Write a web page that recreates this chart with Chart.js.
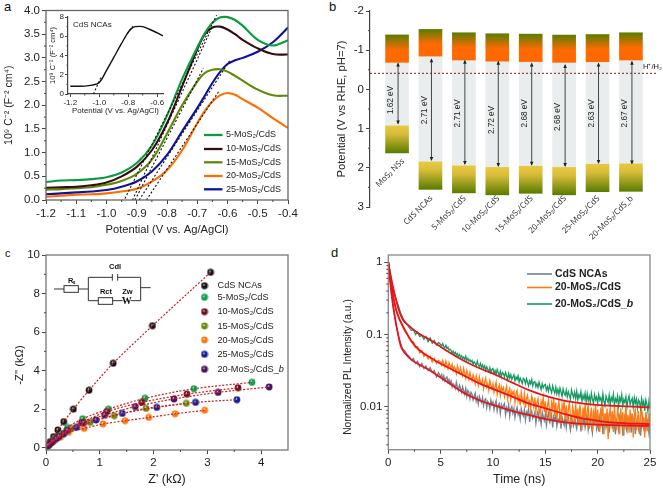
<!DOCTYPE html>
<html><head><meta charset="utf-8">
<script src="https://cdn.jsdelivr.net/npm/chart.js@4"></script>
<style>
html,body{margin:0;padding:0;background:#fff;width:663px;height:489px;overflow:hidden}
canvas{position:absolute;filter:blur(.3px)}
.tag{position:absolute;font-family:"Liberation Sans";color:#111}
</style></head><body>
<div class="tag" style="left:4px;top:-1px;font-size:13px">a</div>
<div class="tag" style="left:329px;top:-1px;font-size:13px">b</div>
<div class="tag" style="left:5px;top:247px;font-size:11px">c</div>
<div class="tag" style="left:331px;top:245px;font-size:13px">d</div>
<script>
// ---------- panel a ----------
const aPotential=[-1.2,-1.15,-1.1,-1.05,-1,-.95,-.9,-.85,-.8,-.75,-.7,-.675,-.65,-.625,-.6,-.575,-.55,-.5,-.45,-.4];
const a5=[.38,.41,.42,.44,.48,.58,.78,1.15,1.78,2.55,3.22,3.52,3.74,3.85,3.86,3.80,3.68,3.38,3.26,3.37];
const a10=[.26,.27,.28,.31,.37,.5,.7,1.05,1.62,2.4,3.18,3.5,3.64,3.66,3.6,3.5,3.38,3.2,3.08,3.07];
const a15=[.22,.23,.25,.27,.32,.40,.55,.85,1.4,2.0,2.5,2.68,2.75,2.76,2.71,2.62,2.52,2.33,2.21,2.2];
const a20=[.07,.09,.11,.12,.14,.18,.24,.39,.63,1.05,1.62,1.88,2.08,2.21,2.26,2.22,2.13,1.95,1.73,1.52];
const a25=[.12,.14,.16,.18,.21,.28,.39,.6,.95,1.45,1.94,2.2,2.47,2.7,2.87,2.95,3.0,3.13,3.33,3.64];
const aNames=["5-MoS₂/CdS","10-MoS₂/CdS","15-MoS₂/CdS","20-MoS₂/CdS","25-MoS₂/CdS"];
const aTangentX=[[-.939,-.636],[-.914,-.653],[-.906,-.68],[-.892,-.59],[-.868,-.626]];
const aTangentY=[[.03,3.9],[0,3.62],[0,2.78],[0,2.97],[0,2.32]];
const insetPotential=[-1.2,-1.1,-1.05,-1,-.95,-.9,-.85,-.8,-.775,-.75,-.7,-.65,-.6,-.56];
const insetValues=[.8,.82,.92,1.2,2.45,3.8,5.15,6.43,6.85,7.0,7.0,6.7,6.35,6.05];
// ---------- panel b ----------
const bNames=["MoS₂ NSs","CdS NCAs","5-MoS₂/CdS","10-MoS₂/CdS","15-MoS₂/CdS","20-MoS₂/CdS","25-MoS₂/CdS","20-MoS₂/CdS_b"];
const bCbTop=[-1.39,-1.53,-1.445,-1.42,-1.41,-1.386,-1.40,-1.445];
const bCbBottom=[-.69,-.85,-.75,-.72,-.71,-.69,-.706,-.75];
const bVbTop=[.93,1.85,1.95,1.99,1.96,1.99,1.91,1.90];
const bVbBottom=[1.62,2.55,2.64,2.69,2.65,2.69,2.61,2.6];
const bArrowTop=[-.66,-.77,-.73,-.705,-.66,-.62,-.66,-.705];
const bArrowBottom=[.87,1.80,1.90,1.955,1.92,1.955,1.88,1.89];
const bGapText=["1.62 eV","2.71 eV","2.71 eV","2.72 eV","2.68 eV","2.68 eV","2.63 eV","2.67 eV"];
const bGapTextAt=[.27,.53,.61,.78,.61,.70,.61,.61];
const bNameAt=[1.8,2.75,2.75,2.75,2.75,2.75,2.75,2.75];
const bHydrogen=-.41;
// ---------- panel c ----------
const cNames=["CdS NCAs","5-MoS₂/CdS","10-MoS₂/CdS","15-MoS₂/CdS","20-MoS₂/CdS","25-MoS₂/CdS","20-MoS₂/CdS_"];
const cX0=[.01,.03,.08,.14,.22,.33,.51,.8,1.25,1.98,3.06];
const cY0=[.05,.14,.31,.57,.92,1.35,2.0,2.98,4.38,6.33,9.1];
const cX1=[.05,.12,.23,.4,.68,1.16,1.84,2.75,3.83];
const cY1=[.15,.35,.6,1.05,1.5,2.0,2.56,3.06,3.39];
const cX2=[.04,.11,.22,.38,.66,1.13,1.78,2.62,3.57];
const cY2=[.12,.3,.55,.85,1.3,1.87,2.35,2.78,3.11];
const cX3=[.03,.08,.17,.3,.48,.82,1.27,1.86,2.61];
const cY3=[.1,.23,.45,.72,1.0,1.31,1.66,2.04,2.3];
const cX4=[.02,.07,.15,.27,.42,.71,1.06,1.47,1.91,2.4,2.95];
const cY4=[.07,.18,.35,.55,.8,1.0,1.23,1.4,1.57,1.76,1.94];
const cX5=[.03,.09,.19,.33,.57,.93,1.42,2.06,2.78,3.55];
const cY5=[.1,.25,.47,.72,1.06,1.44,1.78,2.09,2.35,2.49];
const cX6=[.05,.12,.24,.4,.7,1.09,1.66,2.38,3.2,4.15];
const cY6=[.14,.32,.58,.9,1.3,1.7,2.13,2.53,2.87,3.15];
// ---------- panel d ----------
const dTime=[0,.2,.4,.6,.8,1,1.2,1.4,1.6,1.8,2,2.2,2.4,2.6,2.8,3,3.2,3.4,3.6,3.8,4,4.2,4.4,4.6,4.8,
5,5.1,5.2,5.3,5.4,5.5,5.6,5.7,5.8,5.9,6,6.1,6.2,6.3,6.4,6.5,6.6,6.7,6.8,6.9,7,7.1,7.2,7.3,7.4,7.5,7.6,7.7,7.8,7.9,
8,8.1,8.2,8.3,8.4,8.5,8.6,8.7,8.8,8.9,9,9.1,9.2,9.3,9.4,9.5,9.6,9.7,9.8,9.9,10,10.1,10.2,10.3,10.4,10.5,10.6,10.7,10.8,10.9,
11,11.1,11.2,11.3,11.4,11.5,11.6,11.7,11.8,11.9,12,12.1,12.2,12.3,12.4,12.5,12.6,12.7,12.8,12.9,13,13.1,13.2,13.3,13.4,13.5,13.6,13.7,13.8,13.9,
14,14.1,14.2,14.3,14.4,14.5,14.6,14.7,14.8,14.9,15,15.1,15.2,15.3,15.4,15.5,15.6,15.7,15.8,15.9,16,16.1,16.2,16.3,16.4,16.5,16.6,16.7,16.8,16.9,
17,17.1,17.2,17.3,17.4,17.5,17.6,17.7,17.8,17.9,18,18.1,18.2,18.3,18.4,18.5,18.6,18.7,18.8,18.9,19,19.1,19.2,19.3,19.4,19.5,19.6,19.7,19.8,19.9,
20,20.1,20.2,20.3,20.4,20.5,20.6,20.7,20.8,20.9,21,21.1,21.2,21.3,21.4,21.5,21.6,21.7,21.8,21.9,22,22.1,22.2,22.3,22.4,22.5,22.6,22.7,22.8,22.9,
23,23.1,23.2,23.3,23.4,23.5,23.6,23.7,23.8,23.9,24,24.1,24.2,24.3,24.4,24.5,24.6,24.7,24.8,24.9,25];
const dCdS=[1,.52,.3,.185,.125,.092,.074,.063,.059,.053,.05,.044,.047,.04,.043,.036,.04,.034,.037,.032,.035,.03,.032,.026,.03,
.026,.028,.024,.027,.023,.025,.026,.022,.024,.021,
.023,.019,.021,.02,.018,.022,.019,.017,.02,.018,
.016,.019,.017,.015,.018,.014,.017,.016,.013,.016,
.015,.0125,.014,.0155,.012,.0135,.011,.014,.0125,.0115,
.0135,.0105,.0125,.013,.0098,.012,.0112,.0095,.0125,.0108,
.0118,.0092,.011,.0122,.0088,.0105,.0112,.0082,.0108,.0096,
.0105,.0112,.0078,.0098,.0088,.0108,.0075,.0095,.0102,.0082,
.0095,.0072,.009,.0099,.0078,.0086,.0068,.0095,.0082,.0075,
.0092,.0066,.0085,.0078,.0095,.0062,.0082,.0088,.007,.0076,
.0085,.006,.0078,.0088,.0066,.0072,.0058,.0085,.0074,.0065,
.008,.0056,.0072,.0082,.0062,.0068,.0078,.0052,.0074,.0066,
.0076,.0054,.0068,.0062,.008,.005,.0072,.0064,.0056,.0076,
.0052,.0068,.0074,.0058,.0048,.0072,.0062,.0055,.0076,.0058,
.005,.007,.0062,.0076,.0046,.0066,.0058,.0072,.0052,.0064,
.0074,.0048,.006,.0068,.0054,.0044,.007,.006,.0076,.005,
.0062,.0046,.0072,.0056,.0068,.0042,.0064,.0074,.0052,.0058,
.0072,.0044,.006,.0068,.005,.0076,.0056,.0042,.0066,.006,
.0048,.0072,.0058,.0066,.004,.0062,.0074,.0052,.0046,.0068,
.0056,.0072,.0044,.0064,.0054,.0076,.0042,.006,.0068,.005,
.0066,.004,.0058,.0074,.0052,.0062,.0046,.007,.0056,.0043,.006];
const d20=[1,.6,.39,.27,.205,.17,.146,.128,.11,.102,.09,.08,.08,.066,.068,.056,.06,.05,.054,.046,.05,.042,.047,.04,.044,
.042,.038,.044,.04,.036,.043,.039,.034,.041,.037,
.035,.039,.032,.036,.034,.029,.037,.033,.03,.035,
.03,.027,.034,.029,.025,.032,.028,.024,.03,.026,
.023,.028,.025,.021,.027,.024,.02,.026,.022,.021,
.024,.018,.022,.025,.019,.021,.017,.023,.02,.018,
.021,.016,.019,.022,.015,.018,.02,.0145,.019,.017,
.0185,.014,.017,.0195,.013,.016,.018,.0125,.0165,.015,
.0165,.0115,.0155,.017,.012,.014,.0105,.016,.013,.0115,
.015,.0098,.013,.0145,.0105,.012,.0092,.014,.0125,.01,
.0135,.0088,.0115,.013,.0092,.0078,.012,.0105,.0135,.0085,
.012,.0072,.0105,.0125,.0085,.0068,.0115,.0095,.013,.0075,
.0115,.0065,.0098,.012,.0078,.0058,.0108,.009,.0125,.0068,
.0105,.0062,.0092,.0118,.007,.0052,.0102,.0085,.0058,.0112,
.0068,.0095,.0055,.0108,.008,.0048,.0098,.0072,.011,.0056,
.0088,.0105,.005,.0075,.0098,.0046,.0085,.0068,.0108,.0052,
.0092,.0062,.0045,.0098,.0075,.0104,.0042,.0082,.0065,.0095,
.0036,.0072,.0098,.0055,.0088,.0045,.0102,.0066,.0048,.0092,
.0075,.0042,.0096,.0058,.0085,.004,.0072,.01,.005,.0078,
.0044,.0092,.0062,.0082,.0038,.0075,.0096,.0048,.0068,.0088,
.0042,.0078,.0094,.0052,.0072,.0038,.0086,.0062,.0046,.0082,.0055];
const d20b=[1,.68,.47,.36,.29,.24,.195,.168,.15,.137,.125,.114,.118,.1,.108,.094,.098,.086,.094,.08,.09,.076,.083,.072,.078,
.073,.07,.075,.068,.066,.071,.064,.067,.061,.063,
.06,.056,.059,.054,.057,.052,.055,.05,.053,.049,
.051,.047,.049,.045,.05,.044,.047,.043,.045,.042,
.044,.039,.042,.04,.037,.043,.038,.036,.04,.035,
.038,.034,.037,.032,.036,.033,.031,.035,.03,.033,
.034,.029,.032,.028,.033,.03,.027,.031,.026,.03,
.029,.026,.03,.027,.024,.029,.025,.028,.024,.026,
.028,.023,.026,.024,.027,.022,.025,.023,.021,.025,
.024,.021,.0245,.022,.0195,.023,.021,.024,.0195,.022,
.0225,.019,.021,.0185,.022,.0195,.0175,.021,.0185,.02,
.0205,.017,.019,.0165,.02,.0175,.0158,.0195,.0172,.0155,
.0188,.0152,.0175,.0148,.0182,.016,.014,.0178,.0155,.0145,
.0172,.0138,.0162,.0145,.0128,.0172,.015,.0135,.016,.013,
.0165,.0125,.0148,.0135,.0162,.012,.0145,.0128,.0155,.0118,
.0152,.0122,.014,.0115,.0155,.0128,.0112,.0148,.0125,.0138,
.0112,.0148,.0125,.0135,.0108,.0152,.012,.0105,.0142,.0128,
.0115,.0146,.0108,.0135,.0122,.015,.0105,.013,.0118,.0142,
.0102,.0135,.012,.0148,.0104,.0128,.0115,.0138,.01,.0125,
.0142,.0108,.0122,.0132,.0098,.0135,.0112,.0128,.0096,.0125,
.0118,.0092,.013,.0105,.012,.0088,.0126,.011,.0086,.012,.0095];
const dFitTimeA=[0,.32,.64,1.12,1.27,2.07,3.98,5.57,7.17,8.76,10.35,11.9,13.5,15.1,16.7,19.9,25];
const dFitCdS=[1,.35,.17,.076,.065,.047,.032,.0225,.0158,.0123,.0103,.0088,.0077,.0068,.0062,.0057,.0055];
const dFitTimeB=[0,.25,.5,.8,1.6,2.55,4.46,5.57,7.17,8.76,10.35,11.9,13.5,15.1,16.7,18.3,19.9,21.5,25];
const dFit20=[1,.55,.32,.207,.115,.07,.044,.036,.0275,.021,.017,.0138,.0111,.0095,.0081,.0071,.0065,.0061,.0058];
const dFitTimeC=[0,.25,.5,1,1.43,1.9,2.83,3.98,5.57,7.17,8.76,10.35,11.9,13.5,15.1,16.7,18.3,19.9,25];
const dFit20b=[1,.62,.42,.22,.158,.135,.105,.085,.06,.044,.034,.0275,.0215,.017,.0141,.0123,.0113,.0107,.0099];
const dNames=["CdS NCAs","20-MoS₂/CdS","20-MoS₂/CdS_"];

// ---------- helpers ----------
const FONT='"Liberation Sans"';
const INK='#222';
const zip=(xs,ys)=>xs.map((x,i)=>({x,y:ys[i]}));
function range(a,b,s){const r=[];const n=Math.round((b-a)/s);for(let i=0;i<=n;i++)r.push(+(a+i*s).toFixed(4));return r;}
const panelPlugin={id:'panel',
  afterDatasetsDraw(chart){
    const o=chart.options.plugins.panel||{};const c=chart.ctx,a=chart.chartArea;
    c.save();
    if(o.frame){c.strokeStyle=o.frame;c.lineWidth=o.frameWidth||1.3;c.strokeRect(a.left,a.top,a.right-a.left,a.bottom-a.top);}
    c.strokeStyle=o.tickColor||'#444';c.lineWidth=1;
    const len=o.minorLen||2;
    (o.minorX||[]).forEach(v=>{const p=chart.scales.x.getPixelForValue(v);c.beginPath();c.moveTo(p,a.bottom);c.lineTo(p,a.bottom+len);c.stroke();});
    (o.minorY||[]).forEach(v=>{const p=chart.scales.y.getPixelForValue(v);c.beginPath();c.moveTo(a.left,p);c.lineTo(a.left-len,p);c.stroke();});
    (o.notes||[]).forEach(n=>{c.save();c.font=n.font;c.fillStyle=n.color||INK;c.textAlign=n.align||'left';c.textBaseline='middle';c.translate(n.x,n.y);if(n.rot)c.rotate(n.rot);c.fillText(n.text,0,0);
      if(n.tail){const w=c.measureText(n.text).width;c.font=n.tailFont;c.fillText(n.tail,w,0);}
      c.restore();});
    (o.keys||[]).forEach(k=>{c.beginPath();c.strokeStyle=k.color;c.lineWidth=k.width;c.moveTo(k.x0,k.y);c.lineTo(k.x1,k.y);c.stroke();});
    c.restore();
  }};
Chart.register(panelPlugin);
function axis(o){
  const s={type:o.type||'linear',min:o.min,max:o.max,reverse:!!o.reverse,
    afterFit(sc){if(sc.isHorizontal())sc.height=o.size;else sc.width=o.size;},
    afterBuildTicks(sc){sc.ticks=o.ticks.map(value=>({value}));},
    grid:{display:true,drawOnChartArea:false,drawTicks:true,tickLength:o.tickLen||4,tickColor:o.tickColor||'#444',tickWidth:1},
    border:{display:!!o.line,color:'#444',width:1.2},
    ticks:{color:INK,font:{family:FONT,size:o.font||11.5},padding:o.pad==null?2:o.pad,maxRotation:0,minRotation:0,autoSkip:false,callback:o.fmt},
    title:o.title?{display:true,text:o.title,color:INK,font:{family:FONT,size:o.titleSize||12.5},padding:o.titlePad||{top:0,bottom:0}}:{display:false}};
  return s;
}
function make(box,cfg,pad,extra){
  const cv=document.createElement('canvas');
  cv.width=box.w;cv.height=box.h;
  cv.style.cssText=`left:${box.x}px;top:${box.y}px;width:${box.w}px;height:${box.h}px`;
  document.body.appendChild(cv);
  cfg.options=Object.assign({responsive:false,animation:false,devicePixelRatio:1,events:[],
    layout:{padding:pad},
    },cfg.options);
  cfg.options.plugins=Object.assign({legend:{display:false},tooltip:{enabled:false}},cfg.options.plugins);
  if(extra)cfg.plugins=[{id:'extra',afterDatasetsDraw(chart){const c=chart.ctx;c.save();extra(chart,c);c.restore();}}];
  return new Chart(cv.getContext('2d'),cfg);
}
// ---------- panel a ----------
const aColors=['#0c9a3e','#3a0a10','#5d8a06','#ff6c00','#10129c'];
const aSeries=[a5,a10,a15,a20,a25];
const lineSet=(pts,color,w)=>({data:pts,borderColor:color,borderWidth:w,pointRadius:0,tension:.35,showLine:true,fill:false});
const dash=(pts,w)=>({data:pts,borderColor:'#111',borderWidth:w||1.1,borderDash:[2,2],pointRadius:0,showLine:true,tension:0});
make({x:0,y:0,w:320,h:240},{type:'scatter',data:{datasets:[
  ...aTangentX.map((x,i)=>dash(zip(x,aTangentY[i]))),
  ...aSeries.map((v,i)=>lineSet(zip(aPotential,v),aColors[i],2.1))
]},options:{
  scales:{
    x:axis({min:-1.2,max:-.4,ticks:range(-1.2,-.4,.1),fmt:v=>v.toFixed(1),size:40,title:'Potential (V vs. Ag/AgCl)',titleSize:11.2,titlePad:{top:0,bottom:3},pad:3}),
    y:axis({min:0,max:4,ticks:range(0,4,.5),fmt:v=>v.toFixed(1),size:46,title:'10⁹ C⁻² (F⁻² cm⁴)',titleSize:10.5,titlePad:{top:3,bottom:0}})
  },
  plugins:{panel:{frame:'#666',minorX:range(-1.15,-.45,.1),minorY:range(.25,3.75,.5),
    keys:aNames.map((n,i)=>({x0:204,x1:222.5,y:[135,149,162.3,176,189.3][i],color:aColors[i],width:2.3})),
    notes:aNames.map((n,i)=>({text:n,x:226,y:[135,149,162.3,176,189.3][i],font:`9px ${FONT}`}))
  }}
}},{top:10.5,right:32,left:0,bottom:0});
// inset
make({x:44,y:4,w:130,h:116},{type:'scatter',data:{datasets:[
  dash(zip([-1.04,-.99],[0,1.7]),1.1),dash(zip([-.805,-.77],[6.3,7.05]),1.1),
  lineSet(zip(insetPotential,insetValues),'#111',1.4)
]},options:{
  scales:{
    x:axis({min:-1.216,max:-.56,ticks:[-1.2,-1,-.8,-.6],fmt:v=>v.toFixed(1),size:26,font:8,tickLen:3,pad:1,line:true,title:'Potential (V vs. Ag/AgCl)',titleSize:7.9,titlePad:{top:0,bottom:4}}),
    y:axis({min:0,max:8,ticks:[0,2,4,6,8],fmt:v=>String(v),size:24,font:8,tickLen:3,pad:1,line:true,title:'10⁹ C⁻² (F⁻² cm⁴)',titleSize:7.5,titlePad:{top:4,bottom:0}})
  },
  plugins:{panel:{minorX:[-1.1,-.9,-.7],minorY:[1,3,5,7],minorLen:1.5,
    notes:[{text:'CdS NCAs',x:29,y:21,font:`8px ${FONT}`}]}}
}},{top:13,right:11,left:0,bottom:0});
// ---------- panel b ----------
const bX=bNames.map((n,i)=>i+1);
function grad(stops){return c=>{const y=c.chart.scales.y;const ch=c.chart.ctx;if(!y||!c.raw||!c.raw.y)return stops[0][1];
  const p0=y.getPixelForValue(c.raw.y[0]),p1=y.getPixelForValue(c.raw.y[1]);
  if(!isFinite(p0)||!isFinite(p1))return stops[0][1];
  const g=ch.createLinearGradient(0,p0,0,p1);stops.forEach(s=>g.addColorStop(s[0],s[1]));return g;};}
const barSet=(lo,hi,bg)=>({type:'bar',data:bX.map((x,i)=>({x,y:[lo[i],hi[i]]})),backgroundColor:bg,barThickness:23,grouped:false,borderWidth:0});
make({x:330,y:0,w:333,h:245},{type:'bar',data:{datasets:[
  {type:'line',data:[{x:.19,y:bHydrogen},{x:8.81,y:bHydrogen}],borderColor:'#8a1a1a',borderWidth:1,borderDash:[2,2],pointRadius:0},
  barSet(bCbTop,bCbBottom,grad([[0,'#5c7d00'],[.55,'#ff6a00'],[1,'#ff6800']])),
  barSet(bVbTop,bVbBottom,grad([[0,'#e8c840'],[.3,'#d8bc3a'],[1,'#5a7c00']])),
  barSet(bCbBottom,bVbTop,'#e9eded')
]},options:{
  scales:{
    x:{type:'linear',min:.19,max:8.81,display:false,offset:false},
    y:axis({min:-2,max:3,reverse:true,ticks:range(-2,3,1),fmt:v=>String(v),size:40,line:true,tickLen:4,title:'Potential (V vs RHE, pH=7)',titleSize:11.3,titlePad:{top:5,bottom:0}})
  },
  plugins:{panel:{minorY:range(-1.5,2.5,1),
    notes:[{text:'H⁺/H₂',x:313,y:67,font:`7.5px ${FONT}`,color:'#111'}]}}
}},{top:11,right:5,left:0,bottom:38},(chart,c)=>{
      const xs=chart.scales.x,ys=chart.scales.y;
      c.strokeStyle='#333';c.fillStyle='#222';c.lineWidth=.9;
      bX.forEach((x,i)=>{
        const px=xs.getPixelForValue(x)+1,t=ys.getPixelForValue(bArrowTop[i]),b=ys.getPixelForValue(bArrowBottom[i]);
        c.beginPath();c.moveTo(px,t);c.lineTo(px,b);c.stroke();
        c.beginPath();c.moveTo(px,t-1);c.lineTo(px-1.8,t+3);c.lineTo(px+1.8,t+3);c.closePath();c.fill();
        c.beginPath();c.moveTo(px,b+1);c.lineTo(px-1.8,b-3);c.lineTo(px+1.8,b-3);c.closePath();c.fill();
        c.save();c.translate(px-7,ys.getPixelForValue(bGapTextAt[i]));c.rotate(-Math.PI/2);
        c.font=`8.2px ${FONT}`;c.textAlign='center';c.textBaseline='middle';c.fillText(bGapText[i],0,0);c.restore();
        c.save();c.translate(px+(i===0?5:0),ys.getPixelForValue(bNameAt[i]));c.rotate(-Math.PI/4);
        c.font=`8.2px "Noto Sans"`;c.fillStyle='#333';c.textAlign='right';c.textBaseline='middle';c.fillText(bNames[i],0,0);c.restore();c.fillStyle='#222';
      });
});
// ---------- panel c ----------
const cColors=['#151515','#0ea24a','#701226','#6f8f12','#ff7a14','#12229c','#4c1260'];
const sphere=(col)=>{const s=document.createElement('canvas');s.width=s.height=8;const g=s.getContext('2d');
  const r=g.createRadialGradient(3.2,2.9,.2,4,4,3.5);r.addColorStop(0,'#fff');r.addColorStop(.32,col);r.addColorStop(1,col);
  g.fillStyle=r;g.beginPath();g.arc(4,4,3.4,0,7);g.fill();return s;};
const cSprites=cColors.map(sphere);
const cXs=[cX0,cX1,cX2,cX3,cX4,cX5,cX6],cYs=[cY0,cY1,cY2,cY3,cY4,cY5,cY6];
const cLegendY=[45.7,57.3,71.7,86,100,114.3,129.3];
make({x:0,y:240,w:320,h:249},{type:'scatter',data:{datasets:[
  ...cXs.map((x,i)=>({data:zip(x,cYs[i]),showLine:true,tension:.3,pointRadius:0,borderColor:'#c8201e',borderWidth:1.2,borderDash:[2,1.6]})).slice().reverse(),
  ...cXs.map((x,i)=>({data:zip(x,cYs[i]),showLine:false,pointStyle:cSprites[i],pointRadius:4})).reverse()
]},options:{
  scales:{
    x:axis({min:0,max:4.5,ticks:[0,1,2,3,4],fmt:v=>String(v),size:39,title:"Z' (kΩ)",titlePad:{top:0,bottom:2},pad:2}),
    y:axis({min:-.12,max:10,ticks:[0,2,4,6,8,10],fmt:v=>String(v),size:46})
  },
  plugins:{panel:{frame:'#777',minorX:[.5,1.5,2.5,3.5],minorY:[1,3,5,7,9],
    notes:[{text:"-Z'' (kΩ)",x:20,y:125,rot:-Math.PI/2,align:'center',font:`11.2px ${FONT}`},
      ...cNames.map((n,i)=>({text:n,x:217.5,y:cLegendY[i],font:`9.2px ${FONT}`,tail:i===6?'b':undefined,tailFont:`italic 9.2px ${FONT}`}))]}}
}},{top:15,right:32,left:0,bottom:0},(chart,c)=>{
      cNames.forEach((n,i)=>{const im=cSprites[i];c.drawImage(im,204.5-im.width/2,cLegendY[i]-im.height/2);});
      const X=v=>50+v/3,Y=v=>25+v/3;
      c.strokeStyle='#333';c.lineWidth=1;c.beginPath();
      [[12,72,42,72],[85,72,115,72],[115,37,115,107],[115,37,187,37],[203,37,272,37],[272,37,272,107],[115,107,145,107],[188,107,218,107],[242,107,272,107],[272,68,302,68],[187,27,187,47],[203,27,203,47]]
        .forEach(l=>{c.moveTo(X(l[0]),Y(l[1]));c.lineTo(X(l[2]),Y(l[3]));});
      c.stroke();
      c.strokeRect(X(42),Y(62),43/3,20/3);c.strokeRect(X(145),Y(98),43/3,20/3);
      c.fillStyle='#111';c.textAlign='center';c.textBaseline='middle';
      c.font=`bold 7.5px ${FONT}`;c.fillText('Rₛ',X(65),Y(47));c.fillText('Rct',X(168),Y(80));c.fillText('Zw',X(232),Y(80));c.fillText('Cdl',X(195),Y(5));
      c.font=`bold 10px "Liberation Serif"`;c.fillText('W',X(230),Y(108));
});
// ---------- panel d ----------
const fitSet=(x,y)=>({data:zip(x,y),borderColor:'#ee1119',borderWidth:1.8,pointRadius:0,showLine:true,cubicInterpolationMode:'monotone'});
const rawSet=(y,col)=>({data:zip(dTime,y),borderColor:col,borderWidth:1.3,pointRadius:0,showLine:true,tension:0});
make({x:330,y:240,w:333,h:249},{type:'scatter',data:{datasets:[
  fitSet(dFitTimeA,dFitCdS),fitSet(dFitTimeB,dFit20),fitSet(dFitTimeC,dFit20b),
  rawSet(d20,'#ff7a10'),rawSet(d20b,'#179a62'),rawSet(dCdS,'#6c8290')
]},options:{
  scales:{
    x:axis({min:0,max:25,ticks:[0,5,10,15,20,25],fmt:v=>String(v),size:39.3,title:'Time (ns)',titlePad:{top:0,bottom:2},pad:2}),
    y:axis({type:'logarithmic',min:.00257,max:1.26,ticks:[.01,.1,1],fmt:v=>String(v),size:58.3})
  },
  plugins:{panel:{frame:'#888',minorX:[2.5,7.5,12.5,17.5,22.5],
    minorY:[.003,.004,.005,.006,.007,.008,.009,.02,.03,.04,.05,.06,.07,.08,.09,.2,.3,.4,.5,.6,.7,.8,.9],
    notes:[{text:'Normalized PL Intensity (a.u.)',x:18,y:127,rot:-Math.PI/2,align:'center',font:`10.3px ${FONT}`},
      ...dNames.map((n,i)=>({text:n,x:225,y:[34,47.5,64][i],font:`bold 10.5px ${FONT}`,tail:i===2?'b':undefined,tailFont:`italic bold 10.5px ${FONT}`}))],
    keys:[{x0:197,x1:222,y:34,color:'#6c8290',width:1.6},{x0:197,x1:222,y:47.5,color:'#ff7a10',width:1.6},{x0:197,x1:222,y:64,color:'#179a62',width:1.6}]
  }}
}},{top:15,right:13,left:0,bottom:0});
</script>
</body></html>
